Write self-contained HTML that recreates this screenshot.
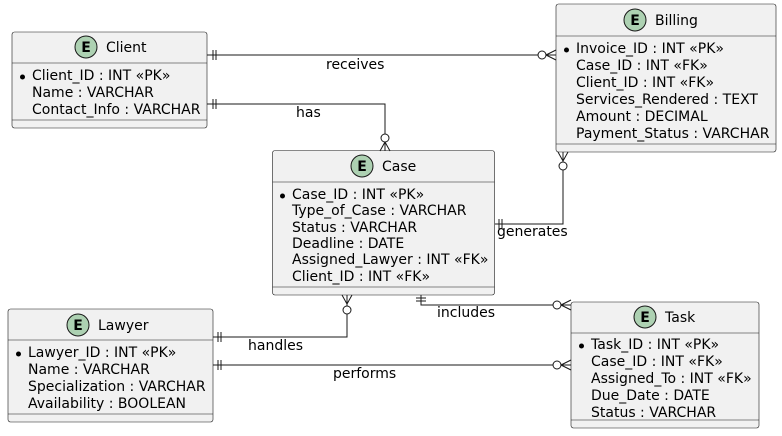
<!DOCTYPE html>
<html><head><meta charset="utf-8"><style>
body{margin:0;background:#fff}
svg{display:block}
text{font-family:"DejaVu Sans","Liberation Sans",sans-serif;font-size:14px;fill:#000}
.b{fill:#f1f1f1;stroke:#181818;stroke-width:0.6}
.l{stroke:#181818;stroke-width:1;fill:none}
.c{fill:#fff;stroke:#181818;stroke-width:1}
</style></head><body>
<svg width="782" height="436" viewBox="0 0 782 436" xmlns="http://www.w3.org/2000/svg">
<defs>
<g id="E"><circle r="11" fill="#ADD1B2" stroke="#181818" stroke-width="1"/><text x="0" y="5" text-anchor="middle" style="font-weight:bold;font-size:14px">E</text></g>
</defs>

<!-- Client -->
<rect class="b" x="12" y="32" width="195" height="96" rx="2.5"/>
<line class="l" x1="12" y1="63" x2="207" y2="63" style="stroke-width:.6"/>
<line class="l" x1="12" y1="120" x2="207" y2="120" style="stroke-width:.6"/>
<use href="#E" x="86" y="47"/><text x="106" y="52">Client</text>
<circle cx="22.5" cy="77" r="2.5"/>
<text x="32" y="80">Client_ID : INT «PK»</text>
<text x="32" y="97">Name : VARCHAR</text>
<text x="32" y="114">Contact_Info : VARCHAR</text>

<!-- Billing -->
<rect class="b" x="556" y="4" width="220" height="148" rx="2.5"/>
<line class="l" x1="556" y1="36" x2="776" y2="36" style="stroke-width:.6"/>
<line class="l" x1="556" y1="144" x2="776" y2="144" style="stroke-width:.6"/>
<use href="#E" x="635" y="20"/><text x="655" y="25">Billing</text>
<circle cx="566.5" cy="50" r="2.5"/>
<text x="576" y="53">Invoice_ID : INT «PK»</text>
<text x="576" y="70">Case_ID : INT «FK»</text>
<text x="576" y="87">Client_ID : INT «FK»</text>
<text x="576" y="104">Services_Rendered : TEXT</text>
<text x="576" y="121">Amount : DECIMAL</text>
<text x="576" y="138">Payment_Status : VARCHAR</text>

<!-- Case -->
<rect class="b" x="272.5" y="150.5" width="222" height="144.5" rx="2.5"/>
<line class="l" x1="272.5" y1="182" x2="494.5" y2="182" style="stroke-width:.6"/>
<line class="l" x1="272.5" y1="287" x2="494.5" y2="287" style="stroke-width:.6"/>
<use href="#E" x="362" y="166"/><text x="382" y="171">Case</text>
<circle cx="282.5" cy="196" r="2.5"/>
<text x="292" y="199">Case_ID : INT «PK»</text>
<text x="292" y="215">Type_of_Case : VARCHAR</text>
<text x="292" y="232">Status : VARCHAR</text>
<text x="292" y="248">Deadline : DATE</text>
<text x="292" y="264">Assigned_Lawyer : INT «FK»</text>
<text x="292" y="281">Client_ID : INT «FK»</text>

<!-- Lawyer -->
<rect class="b" x="8" y="309" width="205" height="113" rx="2.5"/>
<line class="l" x1="8" y1="340" x2="213" y2="340" style="stroke-width:.6"/>
<line class="l" x1="8" y1="414" x2="213" y2="414" style="stroke-width:.6"/>
<use href="#E" x="78" y="325"/><text x="98" y="330">Lawyer</text>
<circle cx="18.5" cy="354" r="2.5"/>
<text x="28" y="357">Lawyer_ID : INT «PK»</text>
<text x="28" y="374">Name : VARCHAR</text>
<text x="28" y="391">Specialization : VARCHAR</text>
<text x="28" y="408">Availability : BOOLEAN</text>

<!-- Task -->
<rect class="b" x="571" y="302" width="188" height="126" rx="2.5"/>
<line class="l" x1="571" y1="333" x2="759" y2="333" style="stroke-width:.6"/>
<line class="l" x1="571" y1="420" x2="759" y2="420" style="stroke-width:.6"/>
<use href="#E" x="645" y="317"/><text x="665" y="322">Task</text>
<circle cx="581.5" cy="346" r="2.5"/>
<text x="591" y="349">Task_ID : INT «PK»</text>
<text x="591" y="366">Case_ID : INT «FK»</text>
<text x="591" y="383">Assigned_To : INT «FK»</text>
<text x="591" y="400">Due_Date : DATE</text>
<text x="591" y="417">Status : VARCHAR</text>

<!-- receives -->
<path class="l" d="M207 55 H556 M213 50 V60 M216 50 V60 M546 55 L556 50 M546 55 L556 60"/>
<circle class="c" cx="542" cy="55" r="4"/>
<text x="326" y="69">receives</text>

<!-- has -->
<path class="l" d="M207 104 H385 V151 M213 99 V109 M216 99 V109 M385 142 L380 151 M385 142 L390 151"/>
<circle class="c" cx="385" cy="138" r="4"/>
<text x="296" y="117">has</text>

<!-- generates -->
<path class="l" d="M495 224 H563 V152 M499 219 V229 M502 219 V229 M563 161 L558 152 M563 161 L568 152"/>
<circle class="c" cx="563" cy="166" r="4"/>
<text x="497" y="236">generates</text>

<!-- includes -->
<path class="l" d="M421 295 V305 H571 M416 298 H426 M416 301 H426 M561 305 L571 300 M561 305 L571 310"/>
<circle class="c" cx="557" cy="305" r="4"/>
<text x="437" y="317">includes</text>

<!-- handles -->
<path class="l" d="M213 337 H347 V295 M218 332 V342 M221 332 V342 M347 304 L342 295 M347 304 L352 295"/>
<circle class="c" cx="347" cy="310" r="4"/>
<text x="248" y="350">handles</text>

<!-- performs -->
<path class="l" d="M213 365 H571 M218 360 V370 M221 360 V370 M561 365 L571 360 M561 365 L571 370"/>
<circle class="c" cx="557" cy="365" r="4"/>
<text x="333" y="378">performs</text>
</svg>
</body></html>
